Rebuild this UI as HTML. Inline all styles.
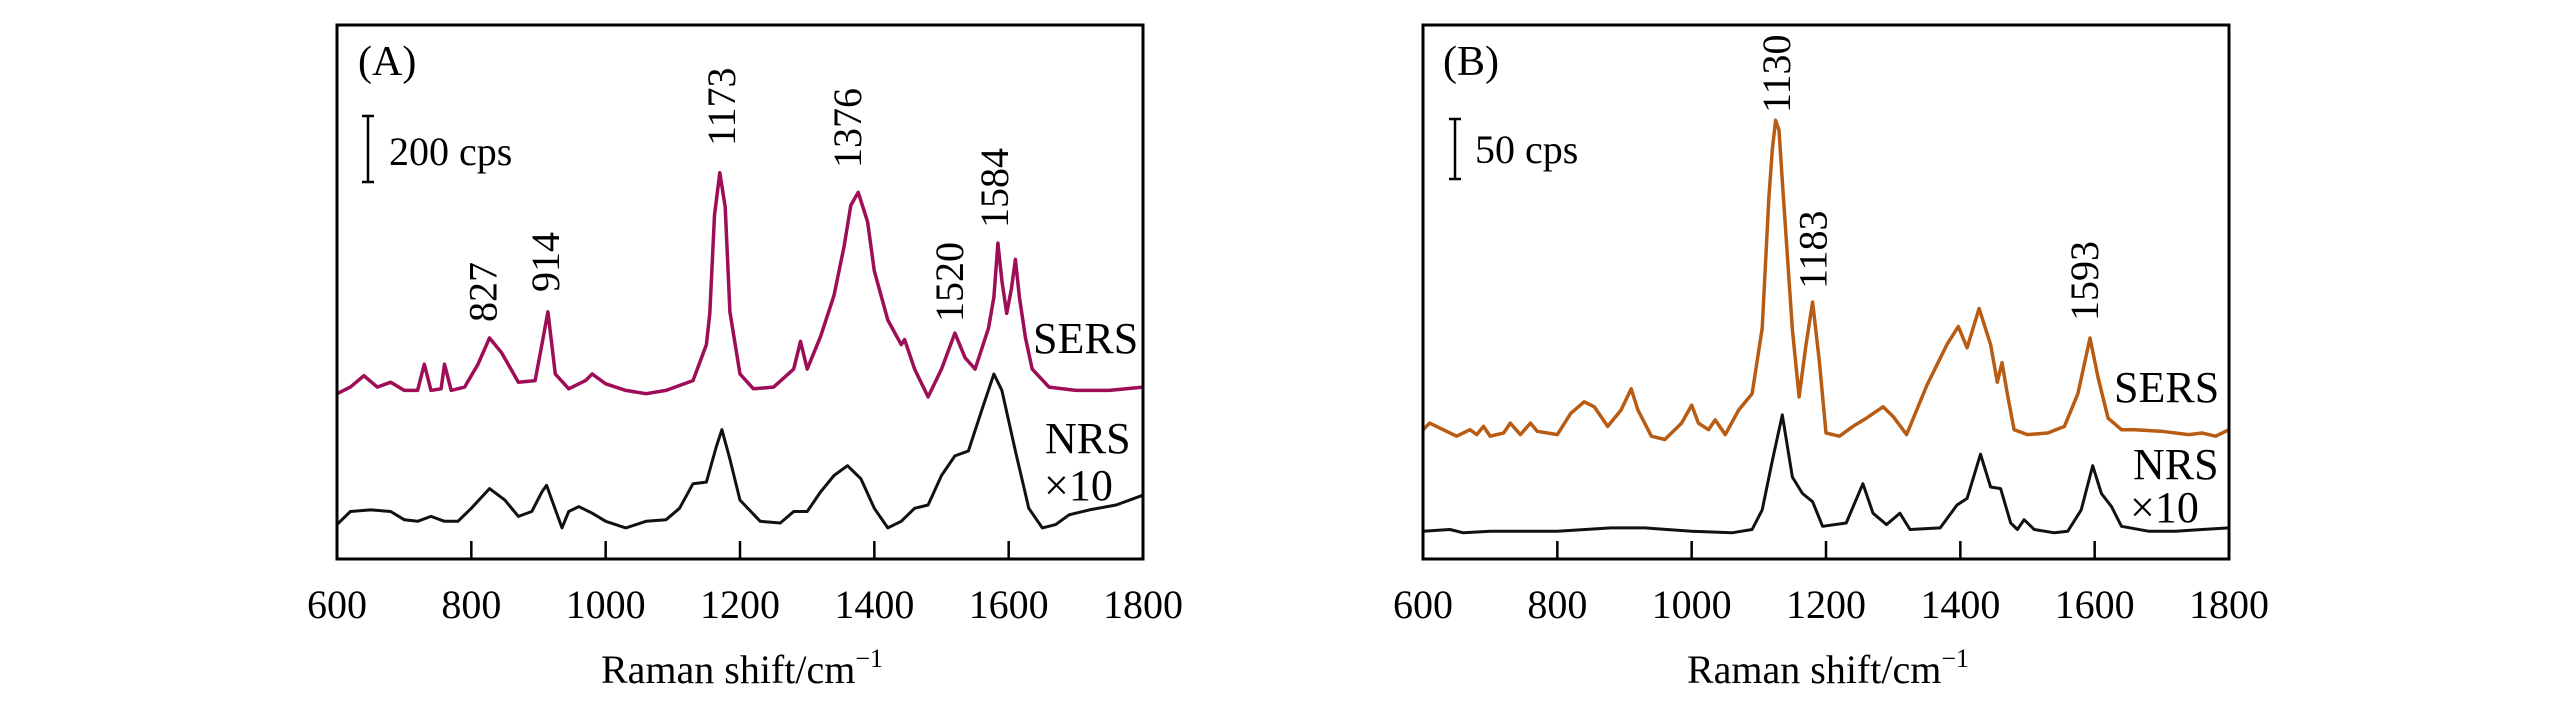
<!DOCTYPE html>
<html><head><meta charset="utf-8"><title>Raman spectra</title>
<style>
html,body{margin:0;padding:0;background:#fff;}
svg{display:block;}
text{font-family:"Liberation Serif",serif;fill:#000;}
</style></head>
<body>
<svg id="chart" width="2567" height="709" viewBox="0 0 2567 709" xmlns="http://www.w3.org/2000/svg"></svg>
<script>
// Panel A data (wavenumber, relative intensity)
const sersAX = [600,620,640,660,680,700,720,730,740,755,760,770,790,810,827,845,870,895,905,914,925,945,970,980,1000,1030,1060,1090,1110,1130,1150,1155,1162,1170,1178,1185,1200,1220,1250,1280,1290,1300,1320,1340,1355,1365,1376,1390,1400,1420,1440,1445,1460,1480,1500,1520,1535,1550,1570,1578,1584,1590,1597,1604,1610,1616,1625,1635,1660,1700,1750,1800];
const sersAY = [101,105,112,105,108,103,103,119,103,104,119,103,105,119,135,126,108,109,131,151,113,104,109,113,107,103,101,103,106,109,131,150,210,236,215,151,113,104,105,116,133,116,136,161,191,216,224,206,176,146,131,134,116,99,116,138,123,116,141,160,193,170,150,165,183,160,135,116,105,103,103,105];
const nrsAX = [600,620,650,680,700,720,740,760,780,800,827,850,870,890,905,912,920,935,945,960,980,1000,1030,1060,1090,1110,1130,1150,1165,1173,1185,1200,1230,1260,1280,1300,1320,1340,1360,1380,1400,1420,1440,1460,1480,1500,1520,1540,1560,1578,1590,1610,1630,1650,1670,1690,1720,1760,1800];
const nrsAY = [21,29,30,29,24,23,26,23,23,31,43,36,26,29,41,45,36,19,29,32,28,23,19,23,24,31,46,47,69,79,61,36,23,22,29,29,41,51,57,49,31,19,23,31,33,51,63,66,91,113,103,66,31,19,21,27,30,33,39];
// Panel B data
const sersBX = [600,610,630,650,670,680,690,700,720,730,745,760,770,800,820,840,855,875,895,910,920,940,960,985,1000,1010,1025,1035,1050,1070,1090,1105,1115,1120,1125,1130,1135,1150,1160,1170,1180,1190,1200,1220,1240,1260,1285,1300,1320,1350,1380,1397,1410,1428,1445,1455,1462,1470,1480,1500,1530,1555,1575,1593,1605,1620,1640,1660,1700,1740,1760,1780,1800];
const sersBY = [79,83,79,75,79,76,81,75,77,83,76,83,78,76,89,96,93,81,91,104,91,75,73,83,94,83,79,85,76,91,101,141,221,250,268,262,231,140,99,130,157,121,77,75,81,86,93,87,76,106,131,142,129,153,131,108,120,101,79,76,77,81,101,135,111,86,79,79,78,76,77,75,79];
const nrsBX = [600,640,660,700,760,800,880,930,1000,1060,1090,1105,1120,1135,1150,1165,1180,1195,1230,1255,1270,1290,1310,1325,1370,1395,1410,1430,1445,1460,1475,1485,1495,1510,1540,1560,1580,1597,1610,1625,1640,1680,1720,1760,1800];
const nrsBY = [17,18,16,17,17,17,19,19,17,16,18,30,60,88,50,40,35,20,22,46,28,21,28,18,19,33,37,64,44,43,22,18,24,18,16,17,30,57,40,32,20,17,17,18,19];
const xTicks = [600,800,1000,1200,1400,1600,1800];

const svg = document.getElementById('chart');
const NS = 'http://www.w3.org/2000/svg';
const TOP = 25, BOT = 559, PXU = 1.637;
function mk(tag, attrs, parent){const e=document.createElementNS(NS,tag);for(const k in attrs)e.setAttribute(k,attrs[k]);(parent||svg).appendChild(e);return e;}
function txt(s, attrs, parent){const e=mk('text',attrs,parent);e.textContent=s;return e;}

function panel(id, left, right, series, labels){
  const g = mk('g',{});
  
  
  const xs = v => left + (v-600)/1200*(right-left);
  const ys = v => BOT - v*PXU;
  series.forEach(s=>{
    let d='';
    s.x.forEach((v,i)=>{d+=(i?'L':'M')+xs(v).toFixed(1)+' '+ys(s.y[i]).toFixed(1);});
    const p = mk('path',{d:d,fill:'none',stroke:s.color,'stroke-width':s.w,'stroke-linejoin':'round'},g);
    
    
  });
  const box = mk('rect',{x:left,y:TOP,width:right-left,height:BOT-TOP,fill:'none',stroke:'#000','stroke-width':3},g);
  
  
  xTicks.forEach(t=>{
    if(t>600 && t<1800){
      const tk = mk('line',{x1:xs(t),x2:xs(t),y1:BOT,y2:BOT-18,stroke:'#000','stroke-width':2.5},g);
      
      
    }
    const tl = txt(String(t),{x:xs(t),y:618,'font-size':40,'text-anchor':'middle'},g);
    
    
  });
  const xt = txt('',{x:(left+right)/2+2,y:683,'font-size':40,'text-anchor':'middle'},g);
  
  
  xt.textContent='Raman shift/cm';
  const sup = mk('tspan',{dy:-16,'font-size':26},xt); sup.textContent='\u22121';
  labels.forEach(l=>{
    const peak = txt(String(l.v),{x:0,y:0,'font-size':40,'text-anchor':'start',transform:'translate('+(xs(l.v)+l.dx+13)+','+l.bottom+') rotate(-90)'},g);
    
    
  });
  return {g, xs};
}

const A = panel('a', 337, 1143, [
  {x:nrsAX,y:nrsAY,color:'#111',w:3,name:'nrs-line-a'},
  {x:sersAX,y:sersAY,color:'#9e0d57',w:3.5,name:'sers-line-a'}
], [{v:827,dx:-6,bottom:322},{v:914,dx:-2,bottom:292},{v:1173,dx:0,bottom:146},{v:1376,dx:-10,bottom:168},{v:1520,dx:-5,bottom:322},{v:1584,dx:-3,bottom:228}]);
const B = panel('b', 1423, 2229, [
  {x:nrsBX,y:nrsBY,color:'#111',w:3,name:'nrs-line-b'},
  {x:sersBX,y:sersBY,color:'#b85c14',w:3.5,name:'sers-line-b'}
], [{v:1130,dx:-2,bottom:113},{v:1183,dx:-1,bottom:289},{v:1593,dx:-5,bottom:321}]);

function label(s,x,y,size,name){const t=txt(s,{x:x,y:y,'font-size':size});return t;}
label('(A)',358,75,42,'panel-label-a');
label('(B)',1443,75,42,'panel-label-b');
// scale bars
[[368,116,182,'scale-bar-a'],[1455,119,179,'scale-bar-b']].forEach(b=>{
  const g=mk('g',{stroke:'#000','stroke-width':2.5});
  
  
  mk('line',{x1:b[0],x2:b[0],y1:b[1],y2:b[2]},g);
  mk('line',{x1:b[0]-6,x2:b[0]+6,y1:b[1],y2:b[1]},g);
  mk('line',{x1:b[0]-6,x2:b[0]+6,y1:b[2],y2:b[2]},g);
});
label('200 cps',389,165,40,'scale-label-a');
label('50 cps',1475,163,40,'scale-label-b');
label('SERS',1033,353,44,'sers-label-a');
label('NRS',1045,453,44,'nrs-label-a');
label('\u00d710',1044,500,44,'nrs-factor-a');
label('SERS',2114,402,44,'sers-label-b');
label('NRS',2133,479,44,'nrs-label-b');
label('\u00d710',2130,522,44,'nrs-factor-b');
</script>
</body></html>
